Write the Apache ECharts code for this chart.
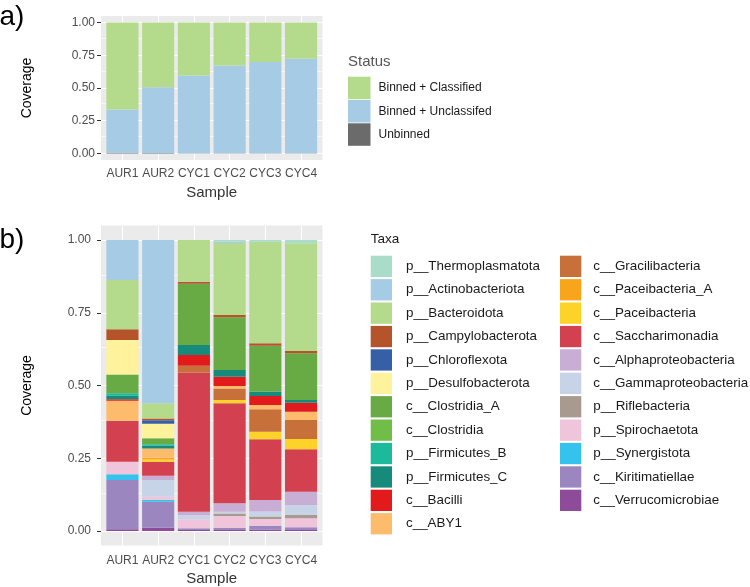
<!DOCTYPE html>
<html>
<head>
<meta charset="utf-8">
<script src="https://cdn.jsdelivr.net/npm/echarts@6/dist/echarts.min.js"></script>
<style>
html,body{margin:0;padding:0;background:#fff;}
#chart{width:750px;height:587px;}
</style>
</head>
<body>
<div id="chart"></div>
<script>
// ---------- data ----------
const samples = ['AUR1', 'AUR2', 'CYC1', 'CYC2', 'CYC3', 'CYC4'];
const yTicks = [0, 0.25, 0.5, 0.75, 1];
const yMinor = [0.125, 0.375, 0.625, 0.875];

// panel a (Status)
const statusNames = ['Binned + Classified', 'Binned + Unclassifed', 'Unbinned'];
const binnedClassified   = [0.665, 0.494, 0.404, 0.329, 0.302, 0.277];
const binnedUnclassified = [0.329, 0.502, 0.595, 0.670, 0.697, 0.722];
const unbinned           = [0.006, 0.004, 0.001, 0.001, 0.001, 0.001];
const statusColors = ['#B3DB8B', '#A6CBE5', '#6B6B6B'];

// panel b (Taxa) - legend order (top of stack first)
const taxaNames = [
  'p__Thermoplasmatota', 'p__Actinobacteriota', 'p__Bacteroidota', 'p__Campylobacterota',
  'p__Chloroflexota', 'p__Desulfobacterota', 'c__Clostridia_A', 'c__Clostridia',
  'p__Firmicutes_B', 'p__Firmicutes_C', 'c__Bacilli', 'c__ABY1',
  'c__Gracilibacteria', 'c__Paceibacteria_A', 'c__Paceibacteria', 'c__Saccharimonadia',
  'c__Alphaproteobacteria', 'c__Gammaproteobacteria', 'p__Riflebacteria', 'p__Spirochaetota',
  'p__Synergistota', 'c__Kiritimatiellae', 'c__Verrucomicrobiae'
];
const Thermoplasmatota    = [0, 0, 0, 0.005, 0.006, 0.011];
const Actinobacteriota    = [0.137, 0.561, 0, 0.005, 0, 0];
const Bacteroidota        = [0.170, 0.052, 0.143, 0.248, 0.349, 0.370];
const Campylobacterota    = [0.037, 0.006, 0.007, 0.007, 0.008, 0.008];
const Chloroflexota       = [0, 0.012, 0, 0, 0, 0];
const Desulfobacterota    = [0.118, 0.050, 0, 0, 0, 0];
const Clostridia_A        = [0.065, 0.021, 0.211, 0.182, 0.158, 0.161];
const Clostridia          = [0, 0, 0, 0, 0, 0];
const Firmicutes_B        = [0.008, 0.005, 0, 0, 0, 0];
const Firmicutes_C        = [0.012, 0.009, 0.034, 0.023, 0.015, 0.009];
const Bacilli             = [0.005, 0, 0.037, 0.032, 0.031, 0.031];
const ABY1                = [0.069, 0.032, 0, 0.008, 0.015, 0.029];
const Gracilibacteria     = [0, 0, 0.023, 0.040, 0.077, 0.065];
const Paceibacteria_A     = [0, 0.006, 0, 0, 0, 0];
const Paceibacteria       = [0, 0.008, 0, 0.011, 0.026, 0.035];
const Saccharimonadia     = [0.141, 0.048, 0.479, 0.344, 0.2085, 0.146];
const Alphaproteobacteria = [0, 0.015, 0.012, 0.029, 0.040, 0.046];
const Gammaproteobacteria = [0, 0.057, 0.014, 0.006, 0.017, 0.034];
const Riflebacteria       = [0, 0, 0, 0.009, 0.008, 0.011];
const Spirochaetota       = [0.043, 0.0115, 0.031, 0.040, 0.024, 0.031];
const Synergistota        = [0.020, 0.006, 0, 0, 0, 0];
const Kiritimatiellae     = [0.169, 0.089, 0.006, 0.008, 0.0135, 0.010];
const Verrucomicrobiae    = [0.006, 0.0113, 0.003, 0.003, 0.004, 0.003];

const taxaValues = [
  Thermoplasmatota, Actinobacteriota, Bacteroidota, Campylobacterota,
  Chloroflexota, Desulfobacterota, Clostridia_A, Clostridia,
  Firmicutes_B, Firmicutes_C, Bacilli, ABY1,
  Gracilibacteria, Paceibacteria_A, Paceibacteria, Saccharimonadia,
  Alphaproteobacteria, Gammaproteobacteria, Riflebacteria, Spirochaetota,
  Synergistota, Kiritimatiellae, Verrucomicrobiae
];
const taxaColors = [
  '#A9DCC9', '#A6CBE5', '#B3DB8B', '#B5542B',
  '#3560A8', '#FFF29C', '#68AB45', '#70BE47',
  '#1CB99A', '#168A7B', '#E31A1C', '#FDBB6C',
  '#C8703A', '#F9A51B', '#FDD32A', '#D3404F',
  '#C8AED4', '#C7D4E8', '#A89A8F', '#F0C5DB',
  '#35C3EE', '#9B86C0', '#8E4B9A'
];

// ---------- layout ----------
const FONT = 'Liberation Sans, Arial, sans-serif';
const panelLeft = 101, panelWidth = 221.5;
const unit = panelWidth / 6.2;
const barLeft = panelLeft + 0.1 * unit, barWidth = unit * 6;
const pa = {top: 16, height: 144};
const pb = {top: 225.5, height: 320};

function bgGrid(p) {
  return {left: panelLeft, top: p.top, width: panelWidth, height: p.height,
          show: true, backgroundColor: '#EBEBEB', borderWidth: 0, containLabel: false};
}
function barGrid(p) {
  return {left: barLeft, top: p.top, width: barWidth, height: p.height, containLabel: false};
}
function bgY(gi, margin) {
  return {
    gridIndex: gi, type: 'value', min: -0.05, max: 1.05,
    axisLine: {show: false},
    axisTick: {show: true, length: 4, lineStyle: {color: '#333', width: 1}, customValues: yTicks},
    axisLabel: {show: true, customValues: yTicks, formatter: v => v.toFixed(2), color: '#4D4D4D',
                fontSize: 12, fontFamily: FONT, margin: margin},
    splitLine: {show: true, lineStyle: {color: '#FFFFFF', width: 1.1}}
  };
}
function hiddenX(gi) {
  return {gridIndex: gi, type: 'value', min: 0, max: 1, show: false};
}
function catX(gi, margin) {
  return {
    gridIndex: gi, type: 'category', data: samples,
    axisLine: {show: false},
    axisTick: {show: true, alignWithLabel: true, interval: 0, length: 4, lineStyle: {color: '#333', width: 1}},
    axisLabel: {interval: 0, hideOverlap: false, color: '#4D4D4D', fontSize: 12, fontFamily: FONT, margin: margin},
    splitLine: {show: false}
  };
}
function hiddenY(gi) {
  return {gridIndex: gi, type: 'value', min: -0.05, max: 1.05, show: false};
}
function minorLines(xi) {
  return {
    type: 'line', xAxisIndex: xi, yAxisIndex: xi, data: [[0.5, 0.5]], z: 1, silent: true,
    showSymbol: false, symbol: 'none', lineStyle: {opacity: 0},
    markLine: {silent: true, symbol: ['none', 'none'], label: {show: false}, z: 1,
      lineStyle: {color: '#FFFFFF', width: 0.6, type: 'solid'}, animation: false,
      data: yMinor.map(v => ({yAxis: v}))}
  };
}
function vertLines(xi) {
  return {
    type: 'line', xAxisIndex: xi, yAxisIndex: xi, data: samples.map(() => 0.5), z: 1, silent: true,
    showSymbol: false, symbol: 'none', lineStyle: {opacity: 0},
    markLine: {silent: true, symbol: ['none', 'none'], label: {show: false}, z: 1,
      lineStyle: {color: '#FFFFFF', width: 1.1, type: 'solid'}, animation: false,
      data: samples.map(s => ({xAxis: s}))}
  };
}

const series = [minorLines(0), vertLines(1), minorLines(2), vertLines(3)];

// panel a stacks (bottom first)
const statusValues = [binnedClassified, binnedUnclassified, unbinned];
for (let i = statusNames.length - 1; i >= 0; i--) {
  series.push({
    name: statusNames[i], type: 'bar', stack: 'a', xAxisIndex: 1, yAxisIndex: 1,
    barWidth: '90%', z: 3, itemStyle: {color: statusColors[i]}, data: statusValues[i]
  });
}
// panel b stacks (bottom first)
for (let i = taxaNames.length - 1; i >= 0; i--) {
  series.push({
    name: taxaNames[i], type: 'bar', stack: 'b', xAxisIndex: 3, yAxisIndex: 3,
    barWidth: '90%', z: 3, itemStyle: {color: taxaColors[i]}, data: taxaValues[i]
  });
}

function legend(names, left, top, size, gap, fontSize, pad) {
  return {
    show: true, orient: 'vertical', left: left, top: top, data: names,
    icon: 'rect', itemWidth: size, itemHeight: size, itemGap: gap,
    selectedMode: false, padding: 0,
    textStyle: {color: '#1A1A1A', fontSize: fontSize, fontFamily: FONT, padding: [0, 0, 0, pad]}
  };
}

function txt(x, y, text, size, color, opts) {
  return Object.assign({
    type: 'text', x: x, y: y, silent: true,
    style: {text: text, fontSize: size, fontFamily: FONT, fill: color,
            textAlign: 'center', textVerticalAlign: 'middle'}
  }, opts || {});
}

const option = {
  animation: false,
  backgroundColor: '#FFFFFF',
  grid: [bgGrid(pa), barGrid(pa), bgGrid(pb), barGrid(pb)],
  xAxis: [hiddenX(0), catX(1, 8), hiddenX(2), catX(3, 9)],
  yAxis: [bgY(0, 6), hiddenY(1), bgY(2, 10), hiddenY(3)],
  legend: [
    legend(statusNames, 348, 76.7, 22.5, 0.8, 12, 3),
    legend(taxaNames.slice(0, 12), 370.7, 255.7, 21.3, 2.1, 13.4, 9),
    legend(taxaNames.slice(12), 560, 255.7, 21.3, 2.1, 13.4, 7)
  ],
  series: series,
  graphic: [
    txt(12, 17, 'a)', 28, '#000'),
    txt(12, 240, 'b)', 28, '#000'),
    txt(27, 88, 'Coverage', 14, '#000', {rotation: Math.PI / 2}),
    txt(27, 385.5, 'Coverage', 14, '#000', {rotation: Math.PI / 2}),
    txt(211.7, 192.7, 'Sample', 15, '#333'),
    txt(211.7, 579, 'Sample', 15, '#333'),
    {type: 'text', x: 348, y: 62.3, silent: true,
     style: {text: 'Status', fontSize: 15, fontFamily: FONT, fill: '#555', textAlign: 'left', textVerticalAlign: 'middle'}},
    {type: 'text', x: 370.7, y: 239, silent: true,
     style: {text: 'Taxa', fontSize: 13.5, fontFamily: FONT, fill: '#1A1A1A', textAlign: 'left', textVerticalAlign: 'middle'}}
  ]
};

const chart = echarts.init(document.getElementById('chart'), null, {renderer: 'canvas'});
chart.setOption(option);
</script>
</body>
</html>
